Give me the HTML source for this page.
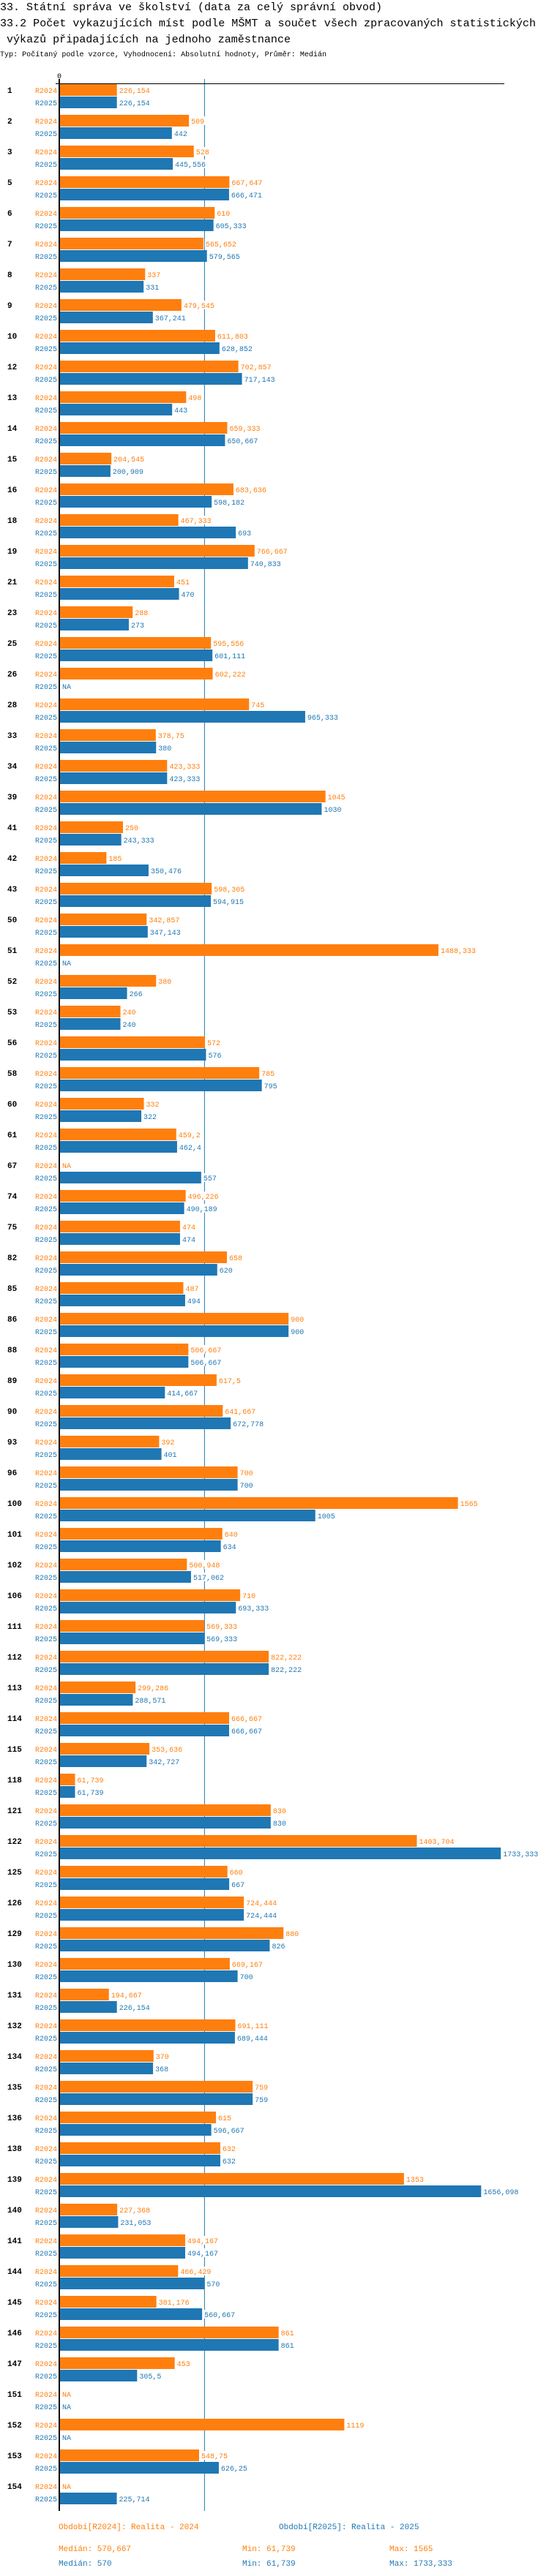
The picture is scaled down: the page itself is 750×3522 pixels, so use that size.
<!DOCTYPE html>
<html><head><meta charset="utf-8">
<style>
html,body{margin:0;padding:0;background:#fff;}
svg{display:block;}
text{font-family:"Liberation Mono","DejaVu Sans Mono",monospace;}
</style></head>
<body>
<svg id="chart" width="750" height="3522" viewBox="0 0 750 3522" xmlns="http://www.w3.org/2000/svg">
<text x="0" y="14" font-size="15" textLength="522" lengthAdjust="spacingAndGlyphs">33. Státní správa ve školství (data za celý správní obvod)</text>
<text x="0" y="36" font-size="15" textLength="732" lengthAdjust="spacingAndGlyphs">33.2 Počet vykazujících míst podle MŠMT a součet všech zpracovaných statistických</text>
<text x="9" y="58" font-size="15" textLength="388" lengthAdjust="spacingAndGlyphs">výkazů připadajících na jednoho zaměstnance</text>
<text x="0" y="77" font-size="10" textLength="446" lengthAdjust="spacingAndGlyphs">Typ: Počítaný podle vzorce, Vyhodnocení: Absolutní hodnoty, Průměr: Medián</text>
<g id="plot"></g>
<g id="legend"></g>
</svg>
<script>
const categories = ["1","2","3","5","6","7","8","9","10","12","13","14","15","16","18","19","21","23","25","26","28","33","34","39","41","42","43","50","51","52","53","56","58","60","61","67","74","75","82","85","86","88","89","90","93","96","100","101","102","106","111","112","113","114","115","118","121","122","125","126","129","130","131","132","134","135","136","138","139","140","141","144","145","146","147","151","152","153","154"];
const values2024 = [226.154,509,528,667.647,610,565.652,337,479.545,611.803,702.857,498,659.333,204.545,683.636,467.333,766.667,451,288,595.556,602.222,745,378.75,423.333,1045,250,185,598.305,342.857,1488.333,380,240,572,785,332,459.2,null,496.226,474,658,487,900,506.667,617.5,641.667,392,700,1565,640,500.948,710,569.333,822.222,299.286,666.667,353.636,61.739,830,1403.704,660,724.444,880,669.167,194.667,691.111,370,759,615,632,1353,227.368,494.167,466.429,381.176,861,453,null,1119,548.75,null];
const values2025 = [226.154,442,445.556,666.471,605.333,579.565,331,367.241,628.852,717.143,443,650.667,200.909,598.182,693,740.833,470,273,601.111,null,965.333,380,423.333,1030,243.333,350.476,594.915,347.143,null,266,240,576,795,322,462.4,557,490.189,474,620,494,900,506.667,414.667,672.778,401,700,1005,634,517.062,693.333,569.333,822.222,288.571,666.667,342.727,61.739,830,1733.333,667,724.444,826,700,226.154,689.444,368,759,596.667,632,1656.098,231.053,494.167,570,560.667,861,305.5,null,null,626.25,225.714];
const seriesNames = ["R2024","R2025"];
const medians = [570.667,570];
const mins = [61.739,61.739];
const maxs = [1565,1733.333];
const axisTicks = [0];

const NS="http://www.w3.org/2000/svg";
const C=["#ff7f0e","#1f77b4"];
const X0=81, SCALE=0.348, TOP=115, PITCH=42;
function xScale(v){return X0+v*SCALE;}
function yGroup(i){return TOP+i*PITCH;}
function fmt(v){return String(Math.round(v*1000)/1000).replace('.',',');}
function mk(tag,attrs,parent){const e=document.createElementNS(NS,tag);for(const k in attrs)e.setAttribute(k,attrs[k]);parent.appendChild(e);return e;}
const plot=document.getElementById('plot');
const bottom=yGroup(categories.length-1)+PITCH;

const med=mk('line',{x1:xScale(medians[1]),x2:xScale(medians[1]),y1:108,y2:bottom,stroke:"#1f77b4","stroke-width":1},plot);



categories.forEach((c,i)=>{
  const y=yGroup(i);
  const g=mk('g',{},plot);
  
  
  const cl=mk('text',{x:10,y:y+12,"font-size":11,"font-weight":"bold",fill:"#000"},g);
  
  
  cl.textContent=c;
  [values2024[i],values2025[i]].forEach((v,s)=>{
    const yy=y+s*17;
    const sl=mk('text',{x:78,y:yy+12,"font-size":10,fill:C[s],"text-anchor":"end"},g);
    
    
    sl.textContent=seriesNames[s];
    let lx=X0+4, txt="NA";
    if(v!==null){
      const r=mk('rect',{x:X0,y:yy,width:xScale(v)-X0,height:16,fill:C[s]},g);
      
      
      lx=xScale(v)+3; txt=fmt(v);
    }
    const w=txt.length*6;
    const bg=mk('rect',{x:lx-1,y:yy+2,width:w+2,height:12,fill:"#fff"},g);
    
    
    const vl=mk('text',{x:lx,y:yy+12,"font-size":10,fill:C[s]},g);
    
    
    vl.textContent=txt;
  });
});

const topLine=mk('line',{x1:76,x2:689,y1:114.5,y2:114.5,stroke:"#000","stroke-width":1},plot);


const yAxis=mk('line',{x1:X0,x2:X0,y1:108,y2:bottom,stroke:"#000","stroke-width":2},plot);


axisTicks.forEach(t=>{
  const tl=mk('text',{x:xScale(t),y:107,"font-size":10,"text-anchor":"middle",fill:"#000"},plot);
  
  
  tl.textContent=String(t);
});

const lg=document.getElementById('legend');
const legendX=[80,381];
const legendText=["Období[R2024]: Realita - 2024","Období[R2025]: Realita - 2025"];
legendText.forEach((t,s)=>{
  const e=mk('text',{x:legendX[s],y:bottom+25,"font-size":11,fill:C[s]},lg);
  
  
  e.textContent=t;
});
[0,1].forEach(s=>{
  const yy=bottom+55+s*20;
  const a=mk('text',{x:80,y:yy,"font-size":11,fill:C[s]},lg);
  
  
  a.textContent="Medián: "+fmt(medians[s]);
  const b=mk('text',{x:331,y:yy,"font-size":11,fill:C[s]},lg);
  
  
  b.textContent="Min: "+fmt(mins[s]);
  const d=mk('text',{x:532,y:yy,"font-size":11,fill:C[s]},lg);
  
  
  d.textContent="Max: "+fmt(maxs[s]);
});
</script>
</body></html>
